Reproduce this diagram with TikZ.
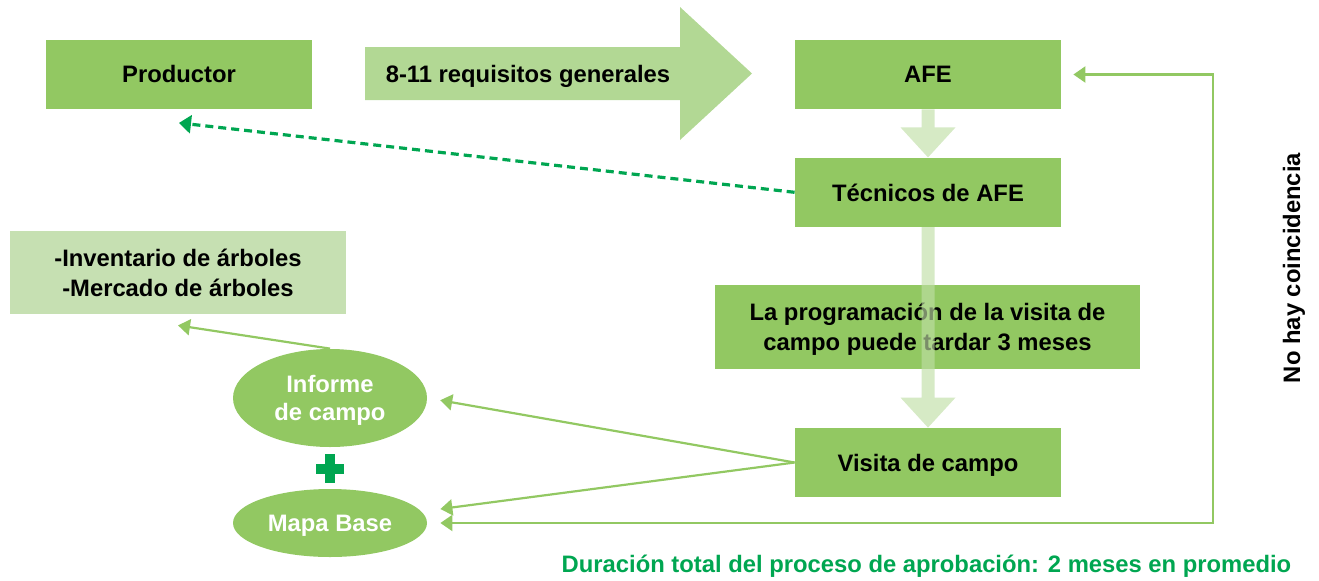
\documentclass[tikz,border=0pt]{standalone}
\usepackage{fontspec}
\setmainfont{Liberation Sans}
\usetikzlibrary{arrows.meta,positioning,shapes.geometric}
\definecolor{boxgreen}{RGB}{146,200,98}
\definecolor{palegreen}{RGB}{178,216,148}
\definecolor{notegreen}{RGB}{198,224,178}
\definecolor{flowgreen}{RGB}{191,222,165}
\definecolor{darkgreen}{RGB}{0,166,81}

\begin{document}
\begin{tikzpicture}[
    x=0.5pt, y=-0.5pt,
    node distance=24pt and 20pt,
    box/.style={rectangle, fill=boxgreen, minimum width=133pt, minimum height=34.5pt, inner sep=0pt, text depth=0pt, align=center, font=\bfseries\fontsize{11.9}{15}\selectfont},
    blob/.style={ellipse, fill=boxgreen, text=white, minimum width=97pt, inner sep=0pt, text depth=0pt, align=center, font=\bfseries\fontsize{11.9}{14}\selectfont},
    link/.style={-{Triangle[length=6pt, width=8pt]}, line width=1.1pt, boxgreen},
    hint/.style={-{Triangle[length=6pt, width=9pt]}, line width=1.6pt, darkgreen, dash pattern=on 4pt off 2.5pt},
    flow/.style={fill=flowgreen, fill opacity=0.64}
]
    \useasboundingbox (0,0) rectangle (1319,580);

    % top row
    \node[box] (productor) at (179,74) {Productor};
    \fill[palegreen] (365,47) -- (680,47) -- (680,7) -- (752,73.5) -- (680,140) -- (680,100) -- (365,100) -- cycle;
    \node[font=\bfseries\fontsize{11.9}{15}\selectfont] (requisitos) at (528,76.5) {8-11 requisitos generales};
    \node[box] (afe) at (928,74.5) {AFE};

    % right column
    \node[box, below=24pt of afe] (tecnicos) {Técnicos de AFE};
    \node[box, minimum width=212.5pt, minimum height=42pt] (programa) at (927.5,327) {La programación de la visita de\\campo puede tardar 3 meses};
    \node[box] (visita) at (928,462.5) {Visita de campo};

    % left column
    \node[box, fill=notegreen, minimum width=168pt, minimum height=41.5pt] (inventario) at (178,272.5) {-Inventario de árboles\\-Mercado de árboles};
    \node[blob, minimum height=49pt] (informe) at (330,398) {Informe\\de campo};
    \coordinate (plus) at (330,468.5);
    \fill[darkgreen] ([shift={(-7pt,-2.5pt)}]plus) rectangle ([shift={(7pt,2.5pt)}]plus);
    \fill[darkgreen] ([shift={(-2.5pt,-7.25pt)}]plus) rectangle ([shift={(2.5pt,7.25pt)}]plus);
    \node[blob, minimum height=34pt] (mapa) at (330,523) {Mapa Base};

    % side notes
    \node[rotate=90, font=\bfseries\fontsize{11.9}{15}\selectfont] (coincidencia) at (1294,268) {No hay coincidencia};
    \node[text=darkgreen, font=\bfseries\fontsize{11.9}{15}\selectfont] (duracion) at (926.5,566) {Duración total del proceso de aprobación: 2 meses en promedio};
    \coordinate (rail) at (1213,0);

    % wide arrows
    \foreach \a/\b in {afe/tecnicos, tecnicos/visita}
        \fill[flow] ([xshift=-3.25pt]\a.south) -- ([shift={(-3.25pt,15pt)}]\b.north) -- ([shift={(-13.75pt,15pt)}]\b.north) -- (\b.north)
            -- ([shift={(13.75pt,15pt)}]\b.north) -- ([shift={(3.25pt,15pt)}]\b.north) -- ([xshift=3.25pt]\a.south) -- cycle;

    \draw[hint] (tecnicos.west) -- ([yshift=-7pt]productor.south);
    \draw[link] (informe.north) -- ([yshift=-5.5pt]inventario.south);
    \draw[link, shorten >=6.5pt] (visita.west) -- (informe.east);
    \draw[link] (visita.west) -- ([shift={(6.5pt,7pt)}]mapa.east);
    \draw[link, {Triangle[length=6pt, width=8pt]}-{Triangle[length=6pt, width=8pt]}, shorten <=6.5pt, shorten >=6pt] (mapa.east) -- (mapa.east -| rail) |- (afe.east);
\end{tikzpicture}
\end{document}
